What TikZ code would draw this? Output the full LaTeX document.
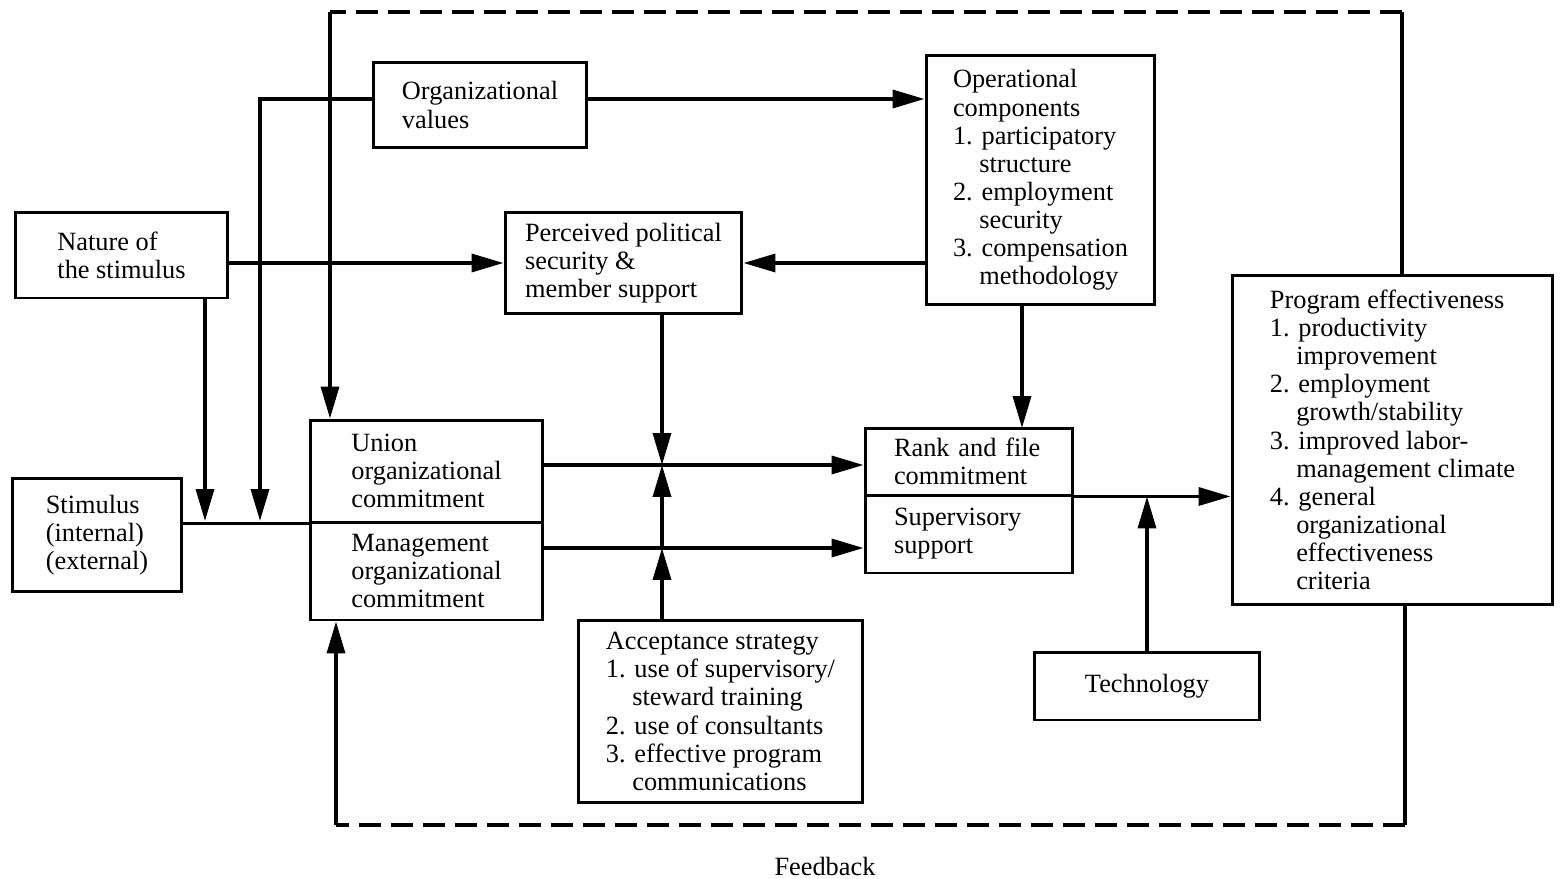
\documentclass[tikz,border=0pt]{standalone}
\usepackage{fontspec}
\setmainfont{Liberation Serif}
\usetikzlibrary{arrows.meta}
\newcommand{\hang}{\phantom{1.\ }}

\begin{document}
\begin{tikzpicture}[x=0.02cm, y=-0.02cm,
    font=\fontsize{15}{16}\selectfont,
    box/.style={draw, line width=1.7pt, align=left, inner sep=2pt},
    link/.style={line width=2pt, -{Triangle[length=0.64cm,width=0.36cm]}},
    wire/.style={line width=2pt},
    fb/.style={line width=2.4pt, dash pattern=on 0.44cm off 0.2cm}]
  \useasboundingbox (0,0) rectangle (1560,879);

  \node[box, minimum width=4.26cm, minimum height=1.72cm] (nature) at (121.5,255)
    {Nature of\\the stimulus};
  \node[box, minimum width=3.4cm, minimum height=2.28cm] (stim) at (97,535)
    {Stimulus\\(internal)\\(external)};
  \node[box, minimum width=4.28cm, minimum height=1.72cm] (val) at (480,105)
    {Organizational\\values};
  \node[box, minimum width=4.74cm, minimum height=2.04cm] (perc) at (623.5,263)
    {Perceived political\\security \&\\member support};
  \node[box, minimum width=4.58cm, minimum height=5cm] (ops) at (1040.5,180)
    {Operational\\components\\1. participatory\\\hang structure\\2. employment\\\hang security\\3. compensation\\\hang methodology};
  \node[box, minimum width=4.66cm, minimum height=2.04cm] (union) at (426.5,471)
    {Union\\organizational\\commitment};
  \node[box, minimum width=4.66cm, minimum height=1.96cm] (mgmt) at (426.5,571)
    {Management\\organizational\\commitment};
  \node[box, text width=3cm, minimum width=4.16cm, minimum height=1.34cm] (rank) at (969,461.5)
    {Rank and file\\commitment};
  \node[box, text width=3cm, minimum width=4.16cm, minimum height=1.56cm] (sup) at (969,534)
    {Supervisory\\support};
  \node[box, minimum width=5.7cm, minimum height=3.66cm] (acc) at (720.5,711.5)
    {Acceptance strategy\\1. use of supervisory/\\\hang steward training\\2. use of consultants\\3. effective program\\\hang communications};
  \node[box, minimum width=4.52cm, minimum height=1.36cm] (tech) at (1147,686)
    {Technology};
  \node[box, minimum width=6.42cm, minimum height=6.6cm] (prog) at (1392.5,440)
    {Program effectiveness\\1. productivity\\\hang improvement\\2. employment\\\hang growth/stability\\3. improved labor-\\\hang management climate\\4. general\\\hang organizational\\\hang effectiveness\\\hang criteria};
  \node (fblabel) at (825,866) {Feedback};

  \coordinate (jn1) at (205,521);
  \coordinate (jn2) at (260,521);
  \coordinate (valrow) at (0,99);
  \coordinate (cu) at (662,465);
  \coordinate (cm) at (662,548);
  \coordinate (opsdrop) at (1022,428);
  \coordinate (fbtr) at (1402,12);
  \coordinate (fbtl) at (330,12);
  \coordinate (fbbr) at (1405,825);
  \coordinate (fbbl) at (336,825);

  \draw[wire] (union.south west -| stim.east) -- (union.south west);
  \draw[link] (nature.south -| jn1) -- (jn1);
  \draw[link] (valrow -| val.west) -| (jn2);
  \draw[link] (nature.east |- perc.west) -- (perc.west);
  \draw[link] (valrow -| val.east) -- (valrow -| ops.west);
  \draw[link] (ops.west |- perc.east) -- (perc.east);
  \draw[link] (ops.south -| opsdrop) -- (opsdrop);
  \draw[link] (perc.south -| cu) -- (cu);
  \draw[link] (acc.north -| cm) -- (cm);
  \draw[link] (cm) -- (cu);
  \draw[link] (cu -| union.east) -- (cu -| rank.west);
  \draw[link] (cm -| mgmt.east) -- (cm -| sup.west);
  \draw[link] (rank.south east) -- (rank.south east -| prog.west);
  \draw[link] (tech.north) -- (tech.north |- rank.south);

  \draw[wire] (prog.north -| fbtr) -- (fbtr);
  \draw[fb] (fbtr) -- (fbtl);
  \draw[link] (fbtl) -- (fbtl |- union.north);
  \draw[wire] (prog.south -| fbbr) -- (fbbr);
  \draw[fb] (fbbr) -- (fbbl);
  \draw[link] (fbbl) -- (fbbl |- mgmt.south);
\end{tikzpicture}
\end{document}
